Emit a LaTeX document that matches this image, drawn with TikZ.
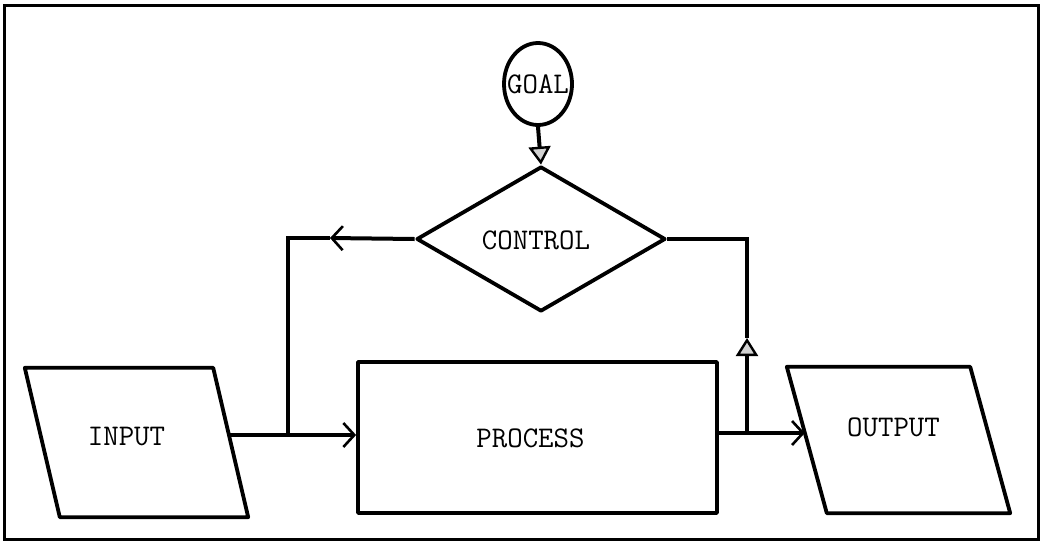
\documentclass[tikz,border=0pt]{standalone}
\usepackage{fontspec}
\usetikzlibrary{shapes.geometric,arrows.meta}
\begin{document}
\begin{tikzpicture}[x=1pt,y=-1pt,
  lbl/.style={font=\fontsize{30pt}{32pt}\selectfont\ttfamily},
  boxline/.style={draw=black,line width=3.8pt,line join=round},
  conn/.style={draw=black,line width=4pt},
  barb/.style={-{Straight Barb[length=11pt,width=24pt,line width=2.6pt]}},
  tri/.style={-{Triangle[open,length=18pt,width=22pt,line width=2.4pt,fill=gray!35]}},
  holder/.style={rectangle,inner sep=0pt}
]
\useasboundingbox (0,0) rectangle (1044,547);
\draw[line width=3pt] (4,5) rectangle (1038,539);

% nodes
\node[boxline,ellipse,minimum width=68pt,minimum height=82pt,inner sep=0pt,
      label={[lbl]center:GOAL}] (goal) at (538,84) {};
\node[boxline,diamond,minimum width=249pt,minimum height=145pt,inner sep=0pt,
      label={[lbl,xshift=-5pt,yshift=-1pt]center:CONTROL}] (ctrl) at (541,239) {};
\node[boxline,rectangle,minimum width=359pt,minimum height=151pt,inner sep=0pt,
      label={[lbl,xshift=-7pt,yshift=-1pt]center:PROCESS}] (proc) at (537.5,437.5) {};
\node[holder,minimum width=188pt,minimum height=149pt,
      label={[lbl,xshift=-10pt,yshift=6pt]center:INPUT}] (input) at (136.5,442.5) {};
\node[holder,minimum width=183pt,minimum height=146pt,
      label={[lbl,xshift=-5pt,yshift=13pt]center:OUTPUT}] (output) at (898.5,440) {};

% parallelogram outlines
\draw[boxline] ([xshift=-17.5pt]input.north west) -- ([xshift=-17.5pt]input.north east)
  -- ([xshift=17.5pt]input.south east) -- ([xshift=17.5pt]input.south west) -- cycle;
\draw[boxline] ([xshift=-20pt]output.north west) -- ([xshift=-20pt]output.north east)
  -- ([xshift=20pt]output.south east) -- ([xshift=20pt]output.south west) -- cycle;

% junctions and arrow points
\coordinate (j1) at (288,435);
\coordinate (a1) at (330,238);
\coordinate (j2) at (747,433);
\coordinate (a2) at (747,338);

% connectors
\draw[conn,tri] (goal.south) -- (ctrl.north);
\draw[conn,barb] (ctrl.west) -- (a1);
\draw[conn] (a1) -| (j1);
\draw[conn] ([xshift=-2pt]input.east |- j1) -- (j1);
\draw[conn,barb] (j1) -- (j1 -| proc.west);
\draw[conn] (proc.east |- j2) -- (j2);
\draw[conn,barb] (j2) -- ([xshift=-2pt]j2 -| output.west);
\draw[conn,tri] (j2) -- (a2);
\draw[conn] (a2) |- (ctrl.east);
\end{tikzpicture}
\end{document}
